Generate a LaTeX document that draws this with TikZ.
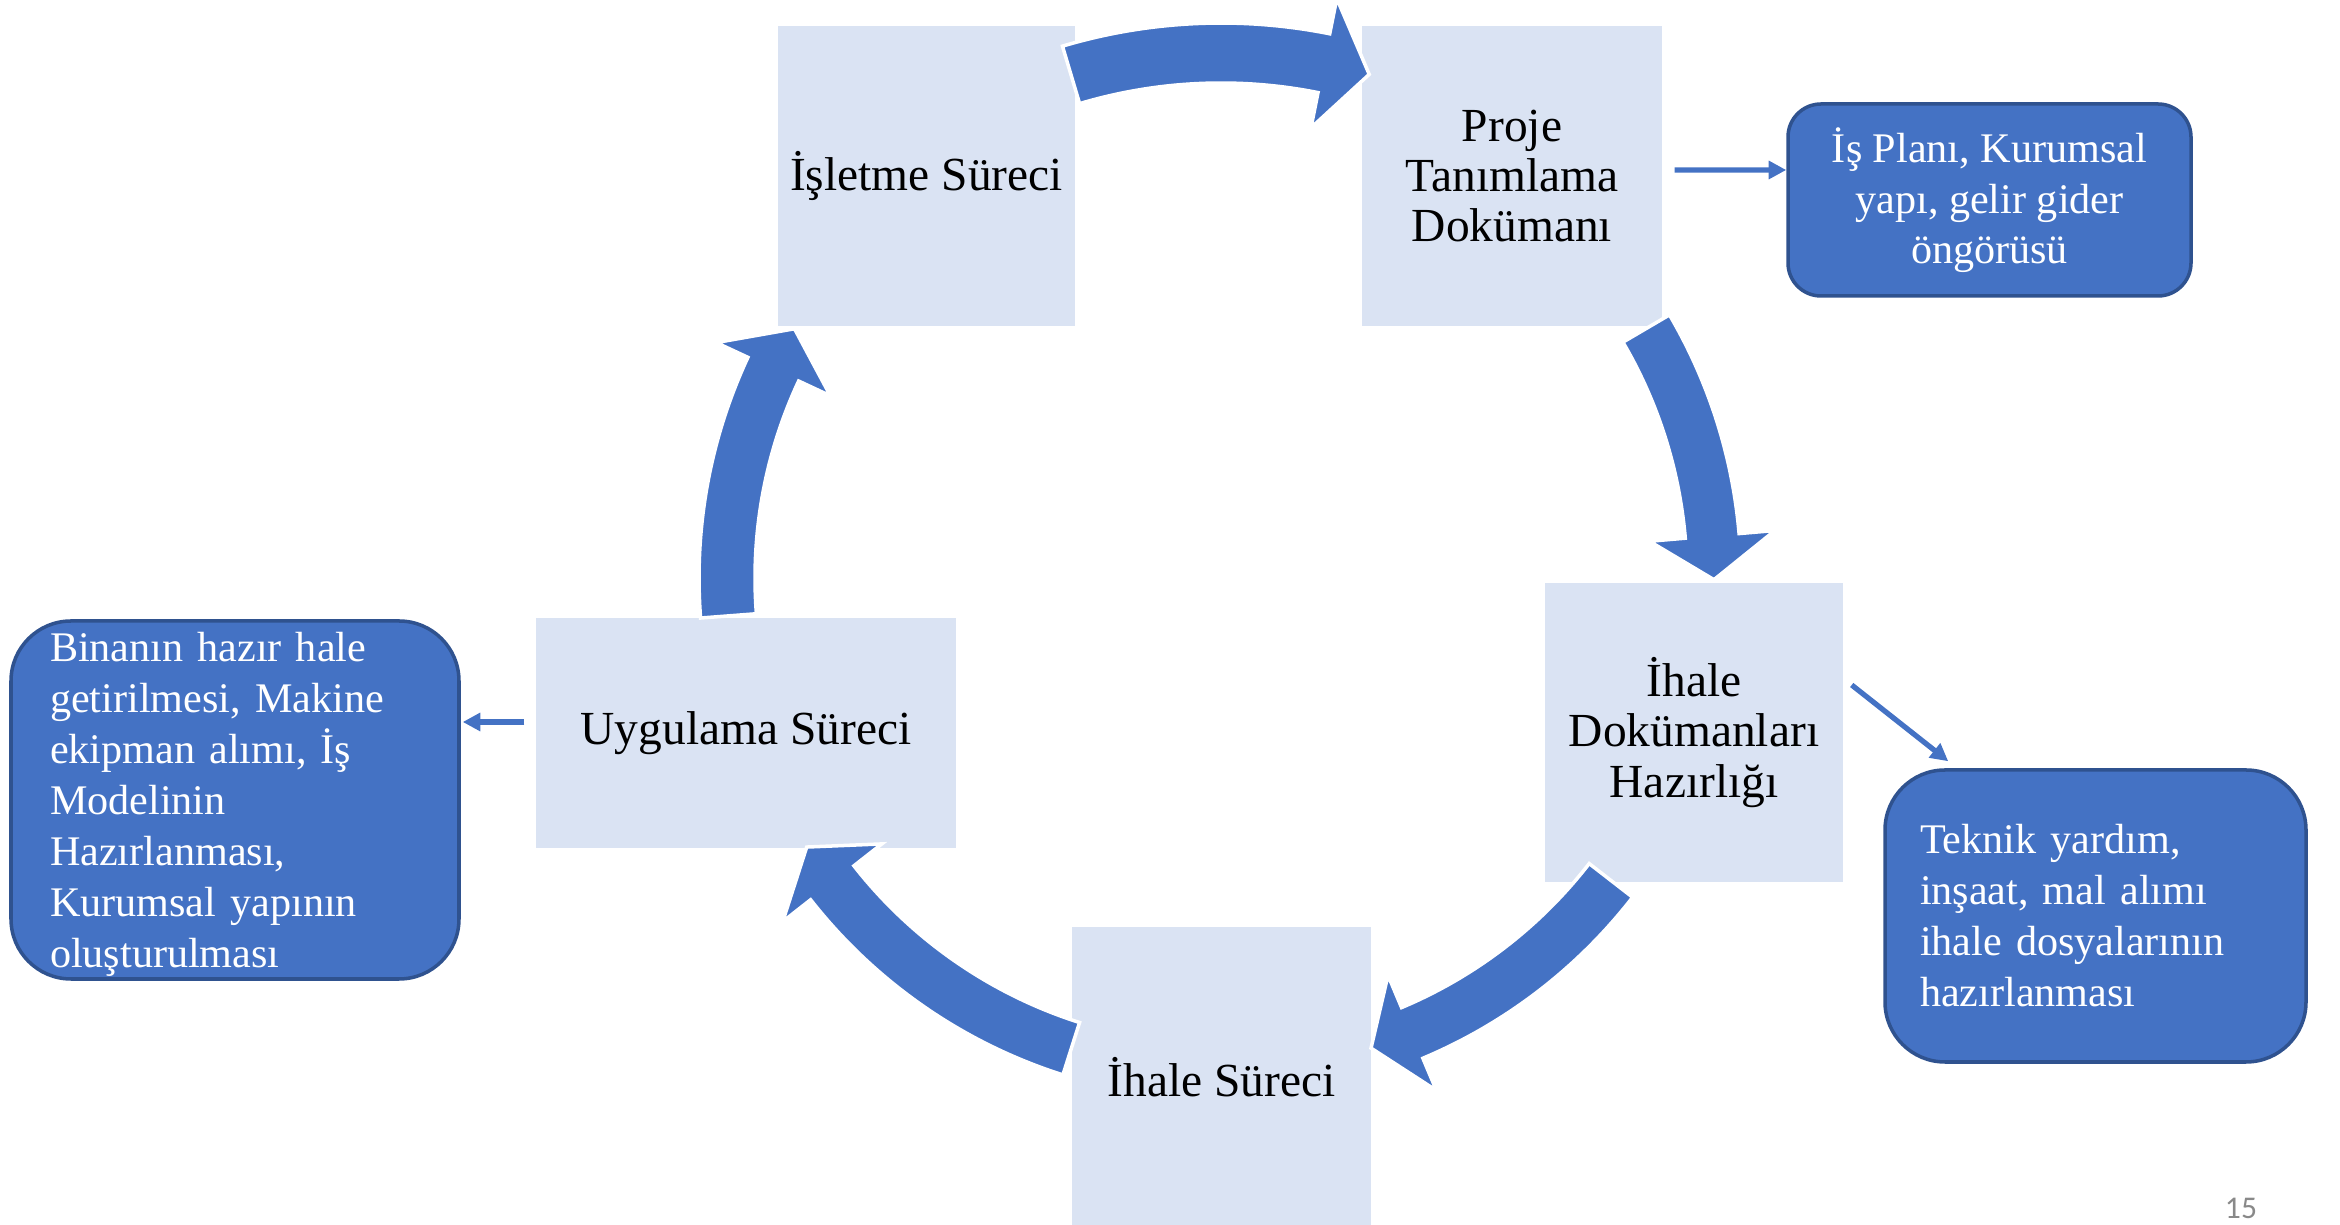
\documentclass[tikz,border=0pt]{standalone}
\usepackage{fontspec}
\setmainfont{Liberation Serif}
\newfontfamily\pagenumfont{Carlito}
\usepackage{tikz}
\usetikzlibrary{arrows.meta}
\definecolor{stagefill}{HTML}{DAE3F3}
\definecolor{cycleblue}{HTML}{4472C4}
\definecolor{noteborder}{HTML}{2F528F}
\definecolor{pagegray}{HTML}{898989}

\begin{document}
\begin{tikzpicture}[
	stage/.style={rectangle, fill=stagefill, minimum width=3cm, minimum height=3cm, inner sep=0pt, align=center, font=\fontsize{13.5}{14.3}\selectfont},
	note/.style={rectangle, rounded corners=0.6cm, fill=cycleblue, draw=noteborder, line width=1pt, text=white, inner sep=0pt, font=\fontsize{12}{14.5}\selectfont},
	cyclearrow/.style={fill=cycleblue, draw=white, line width=1pt},
	thinarrow/.style={draw=cycleblue, line width=1.5pt, -{Triangle[length=5pt,width=5pt]}}
]
	\useasboundingbox (0,0) rectangle (23.4,-12.25);

	\node[stage, minimum width=2.97cm] (isletme) at (9.265,-1.76) {İşletme Süreci};
	\node[stage] (proje) at (15.12,-1.76) {Proje\\Tanımlama\\Dokümanı};
	\node[stage, minimum width=2.98cm, minimum height=2.99cm] (ihaledok) at (16.94,-7.325) {İhale\\Dokümanları\\Hazırlığı};
	\node[stage, minimum width=2.99cm] (ihalesureci) at (12.215,-10.77) {İhale Süreci};
	\node[stage, minimum width=4.2cm, minimum height=2.3cm] (uygulama) at (7.46,-7.33) {Uygulama Süreci};

	\node[note, rounded corners=0.33cm, minimum width=4.03cm, minimum height=1.92cm, align=center] (isplani) at (19.895,-2.00) {\rule{0pt}{10pt}İş Planı, Kurumsal\\yapı, gelir gider\\öngörüsü};
	\node[note, minimum width=4.21cm, minimum height=2.92cm, text width=3.51cm, align=left] (teknik) at (20.955,-9.16) {Teknik yardım,\\inşaat, mal alımı\\ihale dosyalarının\\hazırlanması};
	\node[note, minimum width=4.48cm, minimum height=3.58cm, text width=3.70cm, align=left] (binanin) at (2.35,-8.00) {\rule{0pt}{11pt}Binanın hazır hale\\getirilmesi, Makine\\ekipman alımı, İş\\Modelinin\\Hazırlanması,\\Kurumsal yapının\\oluşturulması};

	\node[text=pagegray, font=\pagenumfont\fontsize{9}{10}\selectfont] (pagenum) at (22.41,-12.08) {15};

	\draw[thinarrow] ([xshift=0.12cm,yshift=0.06cm]proje.east) -- ([yshift=0.30cm]isplani.west);
	\draw[thinarrow] ([xshift=0.08cm,yshift=0.475cm]ihaledok.east) -- ([xshift=0.65cm,yshift=0.07cm]teknik.north west);
	\draw[thinarrow] ([xshift=-0.11cm,yshift=0.11cm]uygulama.west) -- ([xshift=0.02cm,yshift=0.78cm]binanin.east);

	\coordinate (hub) at (12.21,-5.78);
	\begin{scope}[shift={(hub)}]
		\draw[cyclearrow] (106.6:5.55) arc[start angle=106.6, end angle=78.7, radius=5.55] -- (78.7:5.91) -- (73.6:5.25) -- (78.7:4.59) -- (78.7:4.95) arc[start angle=78.7, end angle=106.6, radius=4.95] -- cycle;
		\draw[cyclearrow] (30.4:5.20) arc[start angle=30.4, end angle=4.9, radius=5.20] -- (4.9:5.56) -- (-0.2:4.93) -- (4.9:4.30) -- (4.9:4.66) arc[start angle=4.9, end angle=30.4, radius=4.66] -- cycle;
		\draw[cyclearrow] (-37.8:5.21) arc[start angle=-37.8, end angle=-67.2, radius=5.21] -- (-67.2:5.56) -- (-72.3:4.935) -- (-67.2:4.31) -- (-67.2:4.66) arc[start angle=-67.2, end angle=-37.8, radius=4.66] -- cycle;
		\draw[cyclearrow] (252.35:5.215) arc[start angle=252.35, end angle=218.1, radius=5.215] -- (218.1:5.57) -- (213.0:4.94) -- (218.1:4.31) -- (218.1:4.665) arc[start angle=218.1, end angle=252.35, radius=4.665] -- cycle;
		\draw[cyclearrow] (184.4:5.22) arc[start angle=184.4, end angle=155.0, radius=5.22] -- (155.0:5.57) -- (149.7:4.94) -- (155.0:4.31) -- (155.0:4.66) arc[start angle=155.0, end angle=184.4, radius=4.66] -- cycle;
	\end{scope}
\end{tikzpicture}
\end{document}
